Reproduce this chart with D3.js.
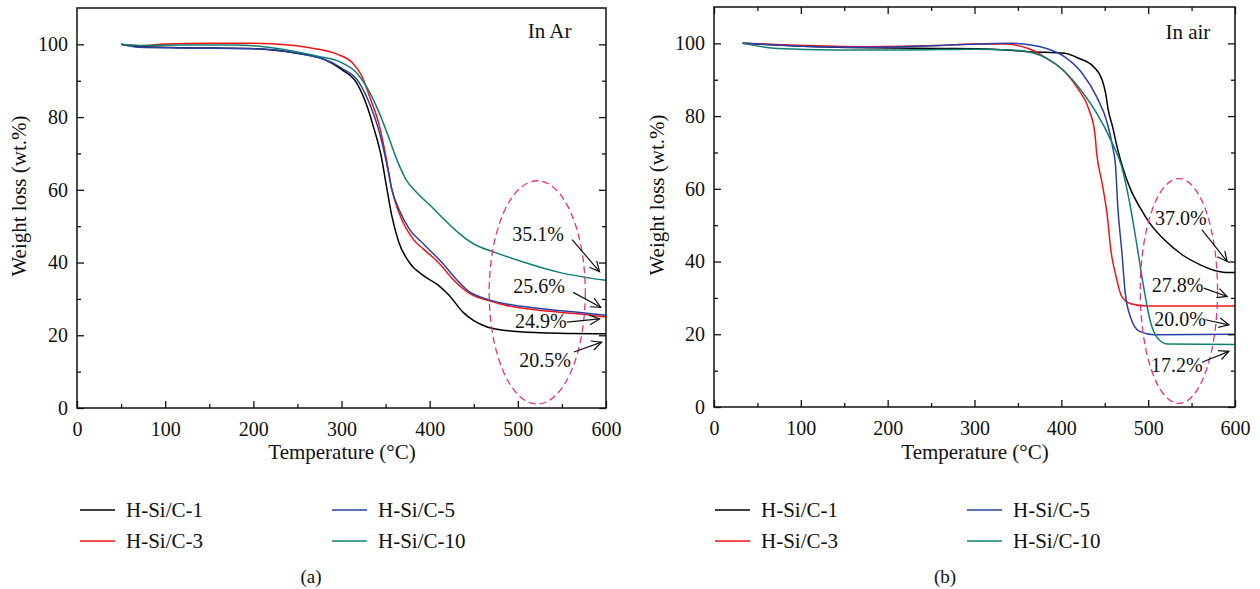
<!DOCTYPE html>
<html>
<head>
<meta charset="utf-8">
<script src="https://cdn.jsdelivr.net/npm/d3@7"></script>
<style>
  html, body { margin: 0; padding: 0; background: #fff; }
  svg { display: block; }
  text { font-family: "Liberation Serif", "DejaVu Serif", serif; fill: #111; }
</style>
</head>
<body>
<svg id="chart" width="1260" height="589"></svg>
<script>
// ---------------- DATA ----------------
const seriesNames = ["H-Si/C-1", "H-Si/C-3", "H-Si/C-5", "H-Si/C-10"];
const seriesColors = ["#000000", "#f21414", "#2a3fa6", "#0f7f74"];

const xTicks = [0, 100, 200, 300, 400, 500, 600];
const yTicks = [0, 20, 40, 60, 80, 100];

// (a) In Ar : [temperature, weight %]
const ar_C1 = [[50,100],[70,99.4],[120,99.1],[203,98.8],[231,98.2],[256,97.3],[272,96.6],[300,93.1],[317,89.5],[329,83],[337,76.7],[345,69.3],[351,61],[357,52.9],[365,45.6],[377,40],[393,36.4],[410,33.7],[422,31],[438,26.3],[450,24],[466,22.2],[487,21.3],[527,20.7],[560,20.5],[600,20.4]];
const ar_C3 = [[50,100],[70,99.6],[100,100.1],[150,100.3],[200,100.3],[240,99.8],[270,98.8],[295,97.3],[312,95],[323,91.3],[333,84.9],[343,77.6],[351,68.4],[357,60.2],[365,53.8],[381,46.5],[393,43.7],[410,40],[426,35.5],[446,31.4],[466,29.6],[487,28.2],[527,26.8],[568,25.9],[600,25.0]];
const ar_C5 = [[50,100],[70,99.2],[120,99.0],[200,98.8],[250,97.6],[300,93.5],[320,89.5],[333,83],[343,75.8],[351,67.5],[357,60.2],[365,54.7],[377,49.2],[393,45.1],[414,40],[430,35.5],[446,31.8],[458,30.5],[487,28.6],[527,27.3],[568,26.3],[600,25.5]];
const ar_C10 = [[50,100],[70,99.7],[120,99.8],[180,99.8],[207,99.5],[244,98.2],[272,96.8],[300,95],[317,92.2],[329,88.1],[341,82.2],[353,74.8],[361,69.4],[373,62.9],[385,59.3],[401,55.6],[418,51.5],[434,47.9],[450,45.1],[474,42.8],[507,40.1],[547,37.3],[600,35.1]];

// (b) In air : [temperature, weight %]
const air_C1 = [[33,100],[95,99.3],[177,98.8],[259,98.6],[321,98.4],[362,97.7],[404,97.3],[420,95.9],[437,93.6],[447,89.9],[451,86.3],[454,81.7],[459,77.1],[465,70.7],[471.6,65.2],[480,59.7],[490,55.1],[502,50.5],[519,45.9],[539.5,41.8],[560,39.1],[581,37.3],[590,37.0],[600,37.0]];
const air_C3 = [[33,100],[95,99.5],[177,99.1],[259,99.4],[300,99.8],[334,99.8],[362,98.6],[383,95.9],[404,92.2],[420,87.2],[432,81.7],[438.6,75.3],[440.7,69.8],[447,61.5],[453,52.4],[457,43.2],[463,35.9],[469.5,30.4],[480,28.4],[498,27.8],[600,27.8]];
const air_C5 = [[33,100],[95,99.3],[177,98.9],[259,99.4],[342,100],[366.6,99.5],[383,98.6],[404,96.3],[424,91.8],[440.7,85.3],[453,78],[459,71.6],[462.5,66.1],[465,55.1],[469.5,43.2],[473.6,31.3],[480,24.5],[490,20.8],[506.6,19.9],[600,20.0]];
const air_C10 = [[33,100],[74,98.6],[136,98.2],[218,98.2],[300,98.4],[342,98.2],[366.6,97.4],[383,95.9],[404,92.2],[424,86.7],[440.7,80.8],[457,73.4],[469.5,66.1],[478,57],[486,46],[494,34.1],[502,24],[510.7,19],[523,17.3],[600,17.2]];

// annotations: [label, textT, textW, arrowFromT, arrowFromW, arrowToT, arrowToW]
const ar_labels = [["35.1%",523,47.8,561.5,46.3,592.7,37.5],["25.6%",524,33.5,562.8,31.8,594,27.7],["24.9%",526,23.8,555.5,23.6,592.7,24.5],["20.5%",531,13.3,563.6,15.4,595,18.1]];
const air_labels = [["37.0%",537.5,51.9,562,48.7,591,40],["27.8%",534,33.6,564,32.7,591,30.4],["20.0%",536.7,24.2,566,24,593,22.6],["17.2%",533,11.6,562,12.3,593,15.3]];
// ellipse [centerT, centerW, radiusT, radiusW]
const ar_ellipse = [522, 31.8, 54.5, 30.7];
const air_ellipse = [535.4, 31.9, 44.5, 30.9];

const panels = [
  { series: [ar_C1, ar_C3, ar_C5, ar_C10], labels: ar_labels, ellipse: ar_ellipse, tag: "In Ar", tagPos: [536, 103.7],
    x0: 77, x1: 606, y0: 408, y1: 8, topTicks: false, caption: "(a)", legendX: 80, captionX: 311, titleX: 342, yTitleX: 26 },
  { series: [air_C1, air_C3, air_C5, air_C10], labels: air_labels, ellipse: air_ellipse, tag: "In air", tagPos: [545.7, 103.2],
    x0: 714, x1: 1235, y0: 407, y1: 7, topTicks: true, caption: "(b)", legendX: 715, captionX: 945, titleX: 975, yTitleX: 664 }
];

// ---------------- DRAW ----------------
const svg = d3.select("#chart");
const FS_TICK = 20, FS_LABEL = 20, FS_TITLE = 21, FS_LEGEND = 21;

panels.forEach(p => {
  const x = d3.scaleLinear().domain([0, 600]).range([p.x0, p.x1]);
  const y = d3.scaleLinear().domain([0, 110]).range([p.y0, p.y1]);
  const g = svg.append("g");

  // lines
  const line = d3.line().x(d => x(d[0])).y(d => y(d[1])).curve(d3.curveMonotoneX);
  p.series.forEach((s, i) => {
    g.append("path").datum(s).attr("d", line)
      .attr("fill", "none").attr("stroke", seriesColors[i]).attr("stroke-width", 1.5);
  });

  // frame
  g.append("rect").attr("x", p.x0).attr("y", p.y1).attr("width", p.x1 - p.x0).attr("height", p.y0 - p.y1)
    .attr("fill", "none").attr("stroke", "#111").attr("stroke-width", 1.5);

  const minorX = d3.range(50, 600, 100);
  const minorY = d3.range(10, 110, 20);

  const bx = g.append("g").attr("transform", `translate(0,${p.y0})`)
    .call(d3.axisBottom(x).tickValues(xTicks).tickSizeInner(-7).tickSizeOuter(0).tickPadding(14).tickFormat(d3.format("d")));
  const bxm = g.append("g").attr("transform", `translate(0,${p.y0})`)
    .call(d3.axisBottom(x).tickValues(minorX).tickSizeInner(-4).tickSizeOuter(0).tickFormat(""));
  const ly = g.append("g").attr("transform", `translate(${p.x0},0)`)
    .call(d3.axisLeft(y).tickValues(yTicks).tickSizeInner(-7).tickSizeOuter(0).tickPadding(9).tickFormat(d3.format("d")));
  const lym = g.append("g").attr("transform", `translate(${p.x0},0)`)
    .call(d3.axisLeft(y).tickValues(minorY).tickSizeInner(-4).tickSizeOuter(0).tickFormat(""));
  const ry = g.append("g").attr("transform", `translate(${p.x1},0)`)
    .call(d3.axisRight(y).tickValues(yTicks).tickSizeInner(-7).tickSizeOuter(0).tickFormat(""));
  const rym = g.append("g").attr("transform", `translate(${p.x1},0)`)
    .call(d3.axisRight(y).tickValues(minorY).tickSizeInner(-4).tickSizeOuter(0).tickFormat(""));
  const axesSel = [bx, bxm, ly, lym, ry, rym];
  if (p.topTicks) {
    axesSel.push(g.append("g").attr("transform", `translate(0,${p.y1})`)
      .call(d3.axisTop(x).tickValues(xTicks).tickSizeInner(-7).tickSizeOuter(0).tickFormat("")));
    axesSel.push(g.append("g").attr("transform", `translate(0,${p.y1})`)
      .call(d3.axisTop(x).tickValues(minorX).tickSizeInner(-4).tickSizeOuter(0).tickFormat("")));
  }
  axesSel.forEach(a => {
    a.select(".domain").remove();
    a.selectAll(".tick line").attr("stroke", "#111").attr("stroke-width", 1.3);
    a.selectAll("text").attr("font-family", "Liberation Serif").attr("font-size", FS_TICK).attr("fill", "#111");
  });

  // axis titles
  g.append("text").attr("x", p.titleX).attr("y", 459).attr("text-anchor", "middle")
    .attr("font-size", FS_TITLE).text("Temperature (°C)");
  g.append("text").attr("transform", `translate(${p.yTitleX},${(p.y0 + p.y1) / 2 - 12}) rotate(-90)`)
    .attr("text-anchor", "middle").attr("font-size", FS_TITLE).text("Weight loss (wt.%)");

  // tag
  g.append("text").attr("x", x(p.tagPos[0])).attr("y", y(p.tagPos[1]) + 7).attr("text-anchor", "middle")
    .attr("font-size", FS_TITLE).text(p.tag);

  // ellipse
  const e = p.ellipse;
  g.append("ellipse").attr("cx", x(e[0])).attr("cy", y(e[1]))
    .attr("rx", x(e[0] + e[2]) - x(e[0])).attr("ry", y(e[1] - e[3]) - y(e[1]))
    .attr("fill", "none").attr("stroke", "#e8308a").attr("stroke-width", 1.3).attr("stroke-dasharray", "7,4");

  // labels + arrows
  p.labels.forEach(l => {
    g.append("text").attr("x", x(l[1])).attr("y", y(l[2]) + 7).attr("text-anchor", "middle")
      .attr("font-size", FS_LABEL).text(l[0]);
    const xa = x(l[3]), ya = y(l[4]), xb = x(l[5]), yb = y(l[6]);
    const ang = Math.atan2(yb - ya, xb - xa);
    const hl = 11, ha = 0.45;
    const p1 = [xb - hl * Math.cos(ang - ha), yb - hl * Math.sin(ang - ha)];
    const p2 = [xb - hl * Math.cos(ang + ha), yb - hl * Math.sin(ang + ha)];
    g.append("line").attr("x1", xa).attr("y1", ya).attr("x2", xb).attr("y2", yb)
      .attr("stroke", "#111").attr("stroke-width", 1.2);
    g.append("path").attr("d", `M${p1[0]},${p1[1]}L${xb},${yb}L${p2[0]},${p2[1]}`)
      .attr("fill", "none").attr("stroke", "#111").attr("stroke-width", 1.2);
  });

  // legend
  seriesNames.forEach((name, i) => {
    const c = (i === 0 || i === 1) ? 0 : 1;
    const r = i % 2;
    const lx = p.legendX + c * 252;
    const ly2 = 510 + r * 31;
    g.append("line").attr("x1", lx).attr("x2", lx + 35).attr("y1", ly2).attr("y2", ly2)
      .attr("stroke", seriesColors[i]).attr("stroke-width", 1.5);
    g.append("text").attr("x", lx + 46).attr("y", ly2 + 7).attr("font-size", FS_LEGEND).text(name);
  });

  // caption
  g.append("text").attr("x", p.captionX).attr("y", 583).attr("text-anchor", "middle")
    .attr("font-size", 19).text(p.caption);
});
</script>
</body>
</html>
